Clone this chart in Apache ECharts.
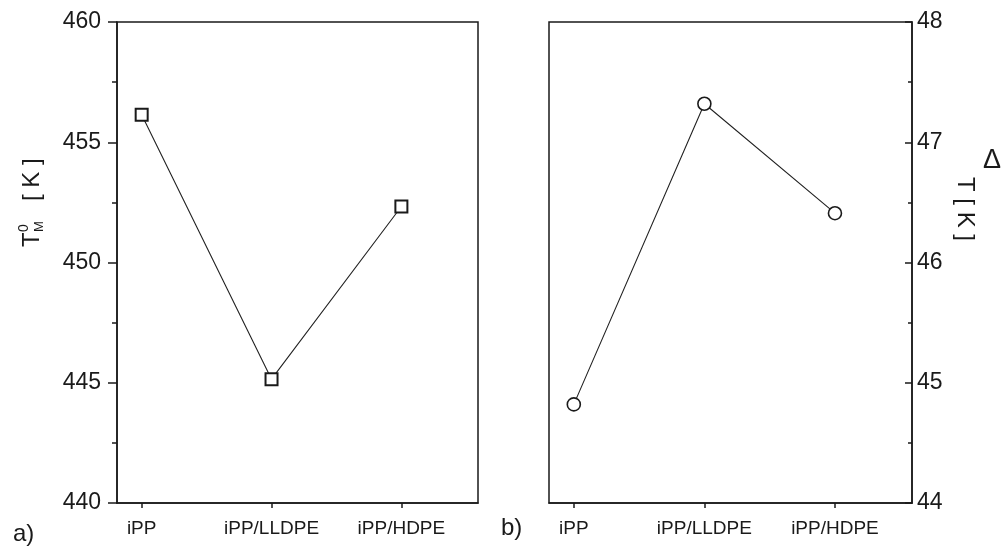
<!DOCTYPE html>
<html>
<head>
<meta charset="utf-8">
<script src="https://cdn.jsdelivr.net/npm/echarts@6/dist/echarts.min.js"></script>
<style>
  html, body { margin: 0; padding: 0; background: #fff; }
  #chart { width: 1003px; height: 548px; }
</style>
</head>
<body>
<div id="chart"></div>
<script>
// Blend systems on the x axis, shared by both panels
const categories = ['iPP', 'iPP/LLDPE', 'iPP/HDPE'];
// a) equilibrium melting temperature T_M^0 [K]
const meltTemp = [456.14, 445.15, 452.33];
// b) temperature difference ΔT [K]
const deltaT = [44.82, 47.32, 46.41];
// axis ranges and tick spacing
const leftTicks = { min: 440, max: 460, interval: 5 };
const rightTicks = { min: 44, max: 48, interval: 1 };

const FONT = '"Liberation Sans", Arial, sans-serif';
const INK = '#1a1a1a';
const catIdx = categories.map((_, i) => i);

function xAxisFor(gridIndex) {
  return {
    type: 'value', gridIndex: gridIndex,
    min: -0.19, max: 2.59,
    axisLine: { show: true, onZero: false, lineStyle: { color: INK, width: 1.5 } },
    axisTick: { show: true, customValues: catIdx, length: 5, lineStyle: { color: INK, width: 1.5 } },
    axisLabel: {
      customValues: catIdx, margin: 16, color: INK, fontFamily: FONT, fontSize: 19,
      formatter: v => categories[Math.round(v)] || ''
    },
    splitLine: { show: false }
  };
}

const chart = echarts.init(document.getElementById('chart'), null, { renderer: 'canvas' });
chart.setOption({
  animation: false,
  backgroundColor: '#fff',
  grid: [
    { left: 117, top: 22, width: 361, height: 481, show: true, borderColor: INK, borderWidth: 1.5 },
    { left: 549, top: 22, width: 363, height: 481, show: true, borderColor: INK, borderWidth: 1.5 }
  ],
  xAxis: [xAxisFor(0), xAxisFor(1)],
  yAxis: [
    {
      type: 'value', gridIndex: 0, position: 'left',
      min: leftTicks.min, max: leftTicks.max, interval: leftTicks.interval,
      axisLine: { show: true, onZero: false, lineStyle: { color: INK, width: 1.5 } },
      axisTick: { show: true, inside: false, length: 9, lineStyle: { color: INK, width: 1.5 } },
      minorTick: { show: true, splitNumber: 2, length: 5, lineStyle: { color: INK, width: 1.5 } },
      axisLabel: { margin: 16, color: INK, fontFamily: FONT, fontSize: 23 },
      splitLine: { show: false }
    },
    {
      type: 'value', gridIndex: 1, position: 'right',
      min: rightTicks.min, max: rightTicks.max, interval: rightTicks.interval,
      axisLine: { show: true, onZero: false, lineStyle: { color: INK, width: 1.5 } },
      axisTick: { show: true, inside: true, length: 7, lineStyle: { color: INK, width: 1.5 } },
      minorTick: { show: true, splitNumber: 2, length: 4, lineStyle: { color: INK, width: 1.5 } },
      axisLabel: { margin: 5, color: INK, fontFamily: FONT, fontSize: 23 },
      splitLine: { show: false }
    }
  ],
  series: [
    {
      type: 'line', xAxisIndex: 0, yAxisIndex: 0,
      data: meltTemp.map((v, i) => [i, v]),
      symbol: 'rect', symbolSize: 12,
      itemStyle: { color: '#fff', borderColor: INK, borderWidth: 2 },
      lineStyle: { color: '#222', width: 1.1 }
    },
    {
      type: 'line', xAxisIndex: 1, yAxisIndex: 1,
      data: deltaT.map((v, i) => [i, v]),
      symbol: 'circle', symbolSize: 13,
      itemStyle: { color: '#fff', borderColor: INK, borderWidth: 1.6 },
      lineStyle: { color: '#222', width: 1.1 }
    }
  ],
  graphic: [
    // panel letters
    { type: 'text', left: 13, top: 522, style: { text: 'a)', font: '24px ' + FONT, fill: INK } },
    { type: 'text', left: 501, top: 516, style: { text: 'b)', font: '24px ' + FONT, fill: INK } },
    // left axis title: T with stacked 0 / M, then [ K ], reading upward
    {
      type: 'group', x: 32, y: 247, rotation: Math.PI / 2,
      children: [
        { type: 'text', x: 0, y: 0, style: { text: 'T', font: '24px ' + FONT, fill: INK, verticalAlign: 'middle' } },
        { type: 'text', x: 15, y: -8, style: { text: '0', font: '14px ' + FONT, fill: INK, verticalAlign: 'middle' } },
        { type: 'text', x: 15, y: 7, style: { text: 'M', font: '13px ' + FONT, fill: INK, verticalAlign: 'middle' } },
        { type: 'text', x: 46, y: 0, style: { text: '[ K ]', font: '24px ' + FONT, fill: INK, verticalAlign: 'middle' } }
      ]
    },
    // right axis title: Δ upright, T [ K ] reading downward
    { type: 'text', x: 992, y: 161, style: { text: 'Δ', font: '27px ' + FONT, fill: INK, align: 'center', verticalAlign: 'middle' } },
    {
      type: 'group', x: 965, y: 177, rotation: -Math.PI / 2,
      children: [
        { type: 'text', x: 0, y: 0, style: { text: 'T [ K ]', font: '24px ' + FONT, fill: INK, verticalAlign: 'middle' } }
      ]
    }
  ]
});
</script>
</body>
</html>
